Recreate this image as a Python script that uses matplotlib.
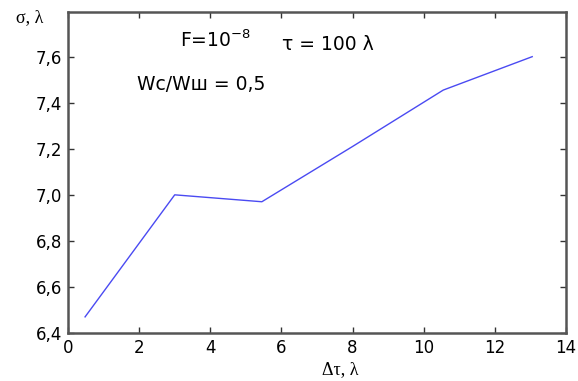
import matplotlib
matplotlib.use("Agg")
import matplotlib.pyplot as plt

x_vals = [0.48, 3.0, 5.45, 8.0, 10.55, 13.05]
y_vals = [6.47, 7.0, 6.97, 7.21, 7.455, 7.60]
x_ticks = [0, 2, 4, 6, 8, 10, 12, 14]
y_ticks = [6.4, 6.6, 6.8, 7.0, 7.2, 7.4, 7.6]
y_tick_labels = ["6,4", "6,6", "6,8", "7,0", "7,2", "7,4", "7,6"]

plt.rcParams['font.family'] = ['DejaVu Sans']

fig = plt.figure(figsize=(5.78, 3.81), dpi=100)
ax = fig.add_axes([68/578, 1-333/381, (566-68)/578, (333-12)/381])
ax.plot(x_vals, y_vals, color='#4a4af2', lw=1.0)
ax.set_xlim(0, 14)
ax.set_ylim(6.4, 7.794)
ax.set_xticks(x_ticks)
ax.set_xticklabels([str(t) for t in x_ticks], fontsize=12)
ax.set_yticks(y_ticks)
ax.set_yticklabels(y_tick_labels, fontsize=12)
ax.tick_params(direction='in', top=True, right=True, length=4, width=1, color='#333333', pad=4)
for s in ax.spines.values():
    s.set_color('#555555')
    s.set_linewidth(1.8)

serif = ['Liberation Serif', 'DejaVu Serif']
fig.text(340/578, 1-370/381, "Δτ, λ", ha='center', va='center', fontsize=13, family=serif)
fig.text(30/578, 1-18/381, "σ, λ", ha='center', va='center', fontsize=13, family=serif)

fig.text(180/578, 1-47/381, r"F=10$^{\mathregular{-8}}$", fontsize=13.5, ha='left', va='baseline')
fig.text(282/578, 1-44/381, "τ = 100 λ", fontsize=13.5, ha='left', va='center')
fig.text(137/578, 1-85/381, "Wc/Wш = 0,5", fontsize=13.5, ha='left', va='center')

fig.savefig("out.png", dpi=100)
